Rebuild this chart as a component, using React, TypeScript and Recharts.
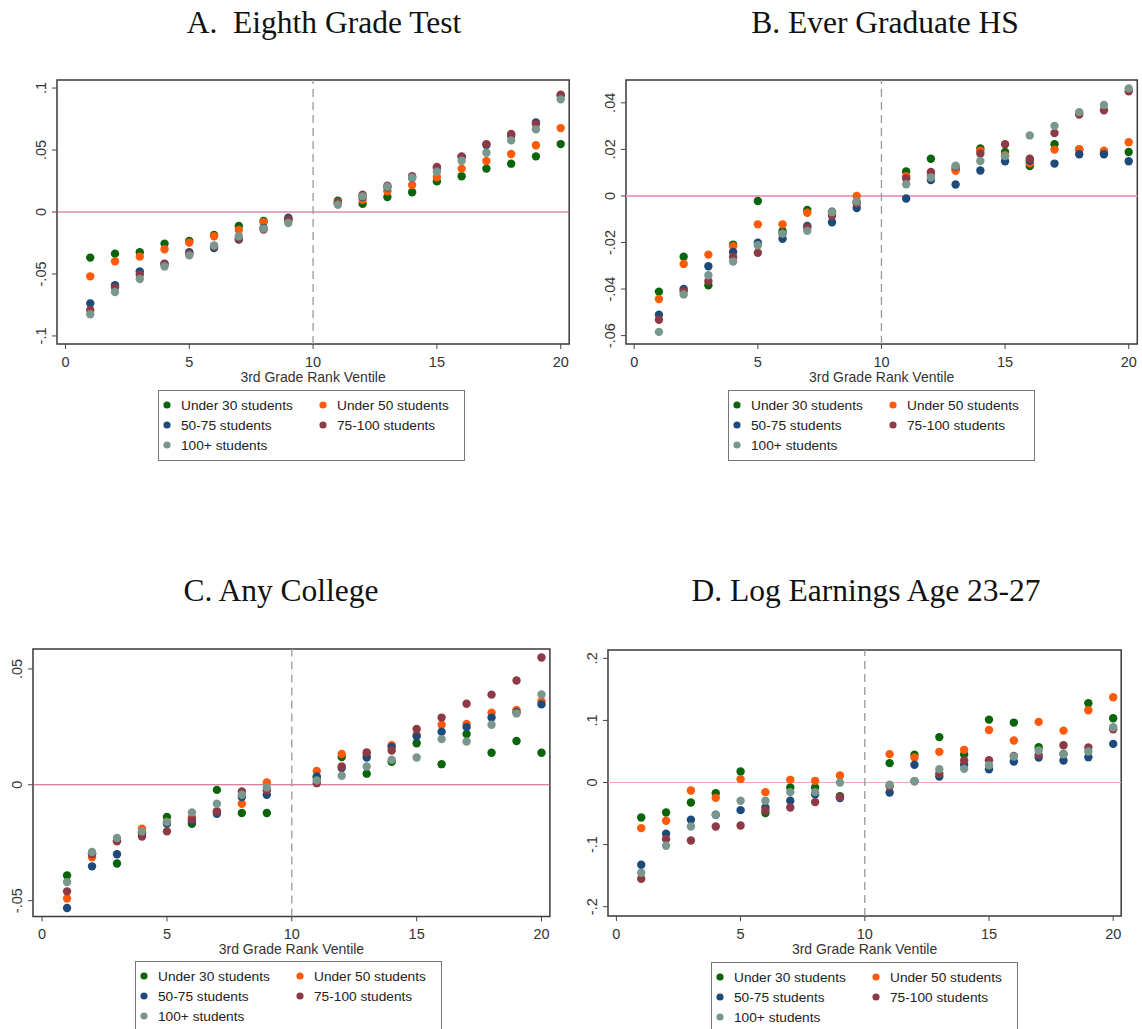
import React from 'react';
import { ScatterChart, Scatter, XAxis, YAxis, ReferenceLine, ReferenceArea, Label } from 'recharts';

// ---------- data ----------
const ventiles = [1, 2, 3, 4, 5, 6, 7, 8, 9, 11, 12, 13, 14, 15, 16, 17, 18, 19, 20];
const xTicks = [0, 5, 10, 15, 20];
const seriesNames = ['Under 30 students', 'Under 50 students', '50-75 students', '75-100 students', '100+ students'];
const seriesColors = ['#0a640a', '#ff5a0a', '#1d4a78', '#8e3a46', '#7a978d'];

// A. Eighth Grade Test
const testUnder30 = [-0.0368, -0.0336, -0.0325, -0.0255, -0.0234, -0.0185, -0.0113, -0.0073, -0.0062, 0.0091, 0.0067, 0.0121, 0.0159, 0.0247, 0.0288, 0.035, 0.039, 0.0449, 0.0548];
const testUnder50 = [-0.0519, -0.0398, -0.036, -0.03, -0.0247, -0.0196, -0.0145, -0.0083, -0.0068, 0.0078, 0.0099, 0.0167, 0.0218, 0.028, 0.035, 0.0411, 0.0468, 0.0538, 0.0677];
const test50to75 = [-0.0737, -0.059, -0.048, -0.0417, -0.0325, -0.029, -0.0223, -0.0129, -0.0046, 0.0067, 0.0121, 0.0199, 0.0274, 0.0355, 0.0444, 0.054, 0.0616, 0.0723, 0.094];
const test75to100 = [-0.079, -0.061, -0.0505, -0.042, -0.0336, -0.0277, -0.0215, -0.0142, -0.006, 0.0073, 0.014, 0.0212, 0.0288, 0.0363, 0.0449, 0.0548, 0.0629, 0.071, 0.0946];
const test100plus = [-0.0825, -0.0645, -0.054, -0.044, -0.035, -0.027, -0.0196, -0.0134, -0.0089, 0.0059, 0.0126, 0.0204, 0.0277, 0.0325, 0.0414, 0.0478, 0.0578, 0.0667, 0.0909];
const testYTicks = [-0.1, -0.05, 0, 0.05, 0.1];

// B. Ever Graduate HS
const hsUnder30 = [-0.0411, -0.0261, -0.0384, -0.0209, -0.0022, -0.015, -0.006, -0.0068, -0.0026, 0.0105, 0.016, 0.0115, 0.0204, 0.0189, 0.0128, 0.0222, 0.02, 0.0185, 0.0189];
const hsUnder50 = [-0.0443, -0.0292, -0.0252, -0.0216, -0.0122, -0.0122, -0.0072, -0.0075, 0.0, 0.0085, 0.009, 0.0108, 0.0194, 0.0175, 0.014, 0.0199, 0.0201, 0.0194, 0.0231];
const hs50to75 = [-0.051, -0.04, -0.0302, -0.0241, -0.0201, -0.0184, -0.0129, -0.0113, -0.0052, -0.0011, 0.0068, 0.0049, 0.0109, 0.0149, 0.0151, 0.0139, 0.0179, 0.0179, 0.0149];
const hs75to100 = [-0.0532, -0.0409, -0.0366, -0.0262, -0.0244, -0.0162, -0.0136, -0.0085, -0.0033, 0.0075, 0.0103, 0.0125, 0.0182, 0.0222, 0.016, 0.027, 0.035, 0.0368, 0.045];
const hs100plus = [-0.0584, -0.0423, -0.0341, -0.0282, -0.0212, -0.0162, -0.015, -0.007, -0.0024, 0.005, 0.0079, 0.013, 0.015, 0.0171, 0.026, 0.0301, 0.036, 0.0391, 0.0462];
const hsYTicks = [-0.06, -0.04, -0.02, 0, 0.02, 0.04];

// C. Any College
const colUnder30 = [-0.0391, -0.0295, -0.034, -0.0205, -0.0139, -0.0168, -0.0022, -0.0122, -0.0122, 0.003, 0.012, 0.0048, 0.0099, 0.0179, 0.0089, 0.0219, 0.0138, 0.0189, 0.0138];
const colUnder50 = [-0.0491, -0.0313, -0.024, -0.019, -0.016, -0.014, -0.0115, -0.0082, 0.001, 0.006, 0.0133, 0.013, 0.0171, 0.0216, 0.0259, 0.0262, 0.0311, 0.0323, 0.036];
const col50to75 = [-0.0532, -0.0352, -0.03, -0.021, -0.0168, -0.0155, -0.0125, -0.0053, -0.0043, 0.0036, 0.0072, 0.0118, 0.0163, 0.0209, 0.0229, 0.0249, 0.029, 0.0313, 0.0347];
const col75to100 = [-0.046, -0.03, -0.0244, -0.0223, -0.0201, -0.015, -0.0115, -0.0029, -0.0024, 0.0007, 0.0079, 0.014, 0.0148, 0.0241, 0.029, 0.035, 0.0389, 0.045, 0.0549];
const col100plus = [-0.042, -0.029, -0.023, -0.0201, -0.0161, -0.0119, -0.0082, -0.0043, -0.0012, 0.0019, 0.0039, 0.0079, 0.0108, 0.0118, 0.0197, 0.0187, 0.0259, 0.0308, 0.039];
const colYTicks = [-0.05, 0, 0.05];

// D. Log Earnings Age 23-27
const earnUnder30 = [-0.0563, -0.0483, -0.0322, -0.0172, 0.0177, -0.0493, -0.008, -0.008, -0.022, 0.0312, 0.0446, 0.0731, 0.045, 0.1013, 0.0965, 0.0568, 0.046, 0.1276, 0.1035];
const earnUnder50 = [-0.0735, -0.0617, -0.0129, -0.0247, 0.0054, -0.0155, 0.0043, 0.0027, 0.0113, 0.0457, 0.0403, 0.0494, 0.0526, 0.0847, 0.0676, 0.0976, 0.0836, 0.1164, 0.1373];
const earn50to75 = [-0.1324, -0.0826, -0.06, -0.052, -0.0445, -0.0402, -0.0295, -0.0188, -0.025, -0.0161, 0.0285, 0.0097, 0.0285, 0.0214, 0.0338, 0.0402, 0.0354, 0.0408, 0.0622];
const earn75to100 = [-0.155, -0.0912, -0.0933, -0.0708, -0.0692, -0.045, -0.0402, -0.0316, -0.0235, -0.006, 0.002, 0.014, 0.0354, 0.0359, 0.0429, 0.0445, 0.06, 0.0563, 0.0858];
const earn100plus = [-0.1453, -0.1019, -0.0708, -0.0525, -0.0295, -0.0295, -0.0155, -0.0155, 0.0, -0.0037, 0.0022, 0.0215, 0.022, 0.0279, 0.0418, 0.0515, 0.0456, 0.0499, 0.089];
const earnYTicks = [-0.2, -0.1, 0, 0.1, 0.2];

// ---------- panels ----------
type Panel = {
  title: string;
  titleX: number;
  titleY: number;
  series: number[][];
  yTicks: number[];
  xDomain: [number, number];
  yDomain: [number, number];
  L: number; R: number; T: number; B: number;
  zeroColor: string;
  zeroWidth: number;
  legendX: number;
  legendY: number;
};

const panels: Panel[] = [
  {
    title: 'A.  Eighth Grade Test', titleX: 324, titleY: 33,
    series: [testUnder30, testUnder50, test50to75, test75to100, test100plus],
    yTicks: testYTicks, xDomain: [-0.343, 20.343], yDomain: [-0.1065, 0.1065],
    L: 57.4, R: 569.6, T: 80, B: 344, zeroColor: '#c2557a', zeroWidth: 1,
    legendX: 158, legendY: 390,
  },
  {
    title: 'B. Ever Graduate HS', titleX: 885, titleY: 33,
    series: [hsUnder30, hsUnder50, hs50to75, hs75to100, hs100plus],
    yTicks: hsYTicks, xDomain: [-0.332, 20.348], yDomain: [-0.0636, 0.0498],
    L: 625.6, R: 1136.9, T: 80, B: 344, zeroColor: '#f0a0c4', zeroWidth: 2,
    legendX: 728, legendY: 390,
  },
  {
    title: 'C. Any College', titleX: 281, titleY: 601,
    series: [colUnder30, colUnder50, col50to75, col75to100, col100plus],
    yTicks: colYTicks, xDomain: [-0.364, 20.336], yDomain: [-0.0568, 0.0586],
    L: 32.8, R: 549.7, T: 649.3, B: 916.7, zeroColor: '#c8557e', zeroWidth: 1,
    legendX: 135, legendY: 961,
  },
  {
    title: 'D. Log Earnings Age 23-27', titleX: 866, titleY: 601,
    series: [earnUnder30, earnUnder50, earn50to75, earn75to100, earn100plus],
    yTicks: earnYTicks, xDomain: [-0.338, 20.322], yDomain: [-0.215, 0.2134],
    L: 608.3, R: 1121.5, T: 650, B: 916, zeroColor: '#f0a6b8', zeroWidth: 1,
    legendX: 711, legendY: 962,
  },
];

const SANS = '"Liberation Sans", Arial, Helvetica, sans-serif';
const SERIF = '"Liberation Serif", "Times New Roman", serif';

const fmt = (v: number) => {
  if (v === 0) return '0';
  const s = String(Math.round(v * 1000) / 1000);
  return s.replace(/^(-?)0\./, '$1.');
};

const YTick = (props: any) => {
  const { x, y, payload } = props;
  const cx = x - 11;
  return (
    <text x={cx} y={y} transform={`rotate(-90 ${cx} ${y})`} textAnchor="middle" dominantBaseline="central"
      fontSize={14.5} fill="#333" fontFamily={SANS}>{fmt(payload.value)}</text>
  );
};

const XTick = (props: any) => {
  const { x, y, payload } = props;
  return (
    <text x={x} y={y + 12.8} textAnchor="middle" dominantBaseline="central" fontSize={14.5} fill="#333" fontFamily={SANS}>
      {String(payload.value)}
    </text>
  );
};

const YAXIS_W = 50;
const XAXIS_H = 45;
const M_TOP = 10;
const M_RIGHT = 10;

const PanelChart = ({ p }: { p: Panel }) => {
  const width = p.R - p.L + YAXIS_W + M_RIGHT;
  const height = p.B - p.T + M_TOP + XAXIS_H;
  const plotW = p.R - p.L;
  const plotH = p.B - p.T;
  return (
    <div style={{ position: 'absolute', left: p.L - YAXIS_W, top: p.T - M_TOP }}>
      <ScatterChart width={width} height={height} margin={{ top: M_TOP, right: M_RIGHT, left: 0, bottom: 0 }}>
        <XAxis dataKey="x" type="number" domain={p.xDomain} ticks={xTicks} allowDataOverflow
          height={XAXIS_H} tickSize={5} tickMargin={0} axisLine={false} tickLine={{ stroke: '#444' }}
          tick={<XTick />} interval={0}>
          <Label content={() => (
            <text x={YAXIS_W + plotW / 2} y={M_TOP + plotH + 33} textAnchor="middle" dominantBaseline="central"
              fontSize={14} fill="#333" fontFamily={SANS}>3rd Grade Rank Ventile</text>
          )} />
        </XAxis>
        <YAxis dataKey="y" type="number" domain={p.yDomain} ticks={p.yTicks} allowDataOverflow
          width={YAXIS_W} tickSize={5} tickMargin={0} axisLine={false} tickLine={{ stroke: '#444' }}
          tick={<YTick />} interval={0} />
        <ReferenceLine y={0} stroke={p.zeroColor} strokeWidth={p.zeroWidth} />
        <ReferenceLine x={10} stroke="#9a9a9a" strokeWidth={1.3} strokeDasharray="8 5" />
        {p.series.map((vals, si) => (
          <Scatter key={seriesNames[si]} name={seriesNames[si]}
            data={ventiles.map((v, i) => ({ x: v, y: vals[i] }))}
            isAnimationActive={false}
            shape={(sp: any) => <circle cx={sp.cx} cy={sp.cy} r={4.2} fill={seriesColors[si]} />} />
        ))}
        <ReferenceArea x1={p.xDomain[0]} x2={p.xDomain[1]} y1={p.yDomain[0]} y2={p.yDomain[1]}
          fill="none" fillOpacity={0} stroke="#3a3a3a" strokeWidth={1.5} ifOverflow="visible" />
      </ScatterChart>
    </div>
  );
};

const LegendBox = ({ x, y }: { x: number; y: number }) => {
  const pos = [
    [9, 15], [165, 15],
    [9, 35], [165, 35],
    [9, 55],
  ];
  return (
    <g>
      <rect x={x + 0.5} y={y + 0.5} width={306} height={70} fill="#fff" stroke="#777" strokeWidth={1} />
      {seriesNames.map((n, i) => (
        <g key={n}>
          <circle cx={x + pos[i][0]} cy={y + pos[i][1]} r={3.6} fill={seriesColors[i]} />
          <text x={x + pos[i][0] + 14} y={y + pos[i][1]} dominantBaseline="central" fontSize={13.7}
            fill="#222" fontFamily={SANS}>{n}</text>
        </g>
      ))}
    </g>
  );
};

export default function App() {
  return (
    <div style={{ position: 'absolute', left: 0, top: 0, width: 1142, height: 1029, background: '#fff', overflow: 'hidden' }}>
      {panels.map((p) => <PanelChart key={p.title} p={p} />)}
      <svg width={1142} height={1029} style={{ position: 'absolute', left: 0, top: 0, pointerEvents: 'none' }}>
        {panels.map((p) => (
          <g key={p.title}>
            <text x={p.titleX} y={p.titleY} textAnchor="middle" fontSize={31.5} fill="#111" fontFamily={SERIF}
              style={{ whiteSpace: 'pre' }} xmlSpace="preserve">{p.title}</text>
            <LegendBox x={p.legendX} y={p.legendY} />
          </g>
        ))}
      </svg>
    </div>
  );
}
